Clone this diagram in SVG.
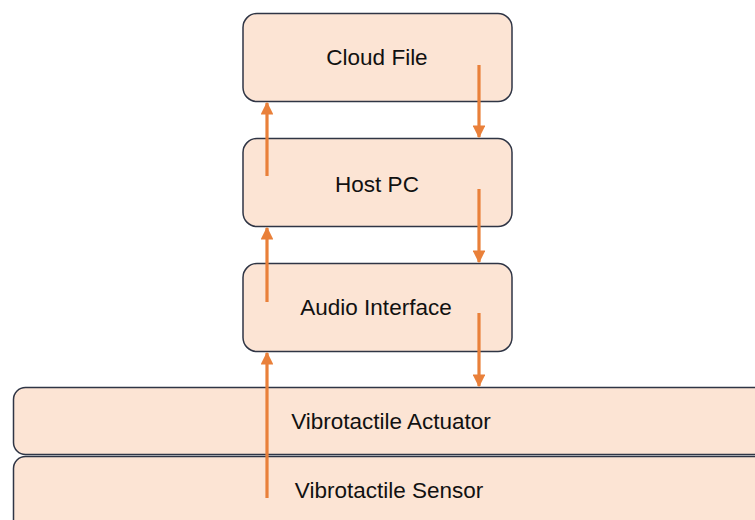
<svg xmlns="http://www.w3.org/2000/svg" width="755" height="520" viewBox="0 0 755 520">
<defs>
<style>
.box{fill:#fce4d4;stroke:#2f3545;stroke-width:1.5}
.lbl{font-family:"Liberation Sans",Arial,sans-serif;font-size:22.5px;fill:#111;text-anchor:middle}
.arr{stroke:#e9803a;stroke-width:3.2;fill:none;marker-end:url(#ah)}
</style>
<marker id="ah" viewBox="0 0 10 10" refX="9" refY="5" markerWidth="4" markerHeight="4" orient="auto" markerUnits="strokeWidth">
<path d="M0,0 L10,5 L0,10 Z" fill="#e9803a"/>
</marker>
</defs>
<rect width="755" height="520" fill="#ffffff"/>
<g id="sensor">
<rect class="box" x="13.5" y="456.5" width="760" height="80" rx="12"/>
<text class="lbl" x="389" y="498">Vibrotactile Sensor</text>
</g>
<g id="actuator">
<rect class="box" x="13.5" y="387.5" width="760" height="67" rx="12"/>
<text class="lbl" x="391" y="429">Vibrotactile Actuator</text>
</g>
<g id="audio">
<rect class="box" x="243" y="263.5" width="269" height="88" rx="14"/>
<text class="lbl" x="376" y="315">Audio Interface</text>
</g>
<g id="host">
<rect class="box" x="243" y="138.5" width="269" height="88" rx="14"/>
<text class="lbl" x="377" y="192">Host PC</text>
</g>
<g id="cloud">
<rect class="box" x="243" y="13.5" width="269" height="88" rx="14"/>
<text class="lbl" x="377" y="65">Cloud File</text>
</g>
<g id="connectors">
<line class="arr" x1="479" y1="65" x2="479" y2="137"/>
<line class="arr" x1="479" y1="189" x2="479" y2="262"/>
<line class="arr" x1="479" y1="313" x2="479" y2="386"/>
<line class="arr" x1="267" y1="176" x2="267" y2="103"/>
<line class="arr" x1="267" y1="302" x2="267" y2="228"/>
<line class="arr" x1="267" y1="498" x2="267" y2="353"/>
</g>
</svg>
